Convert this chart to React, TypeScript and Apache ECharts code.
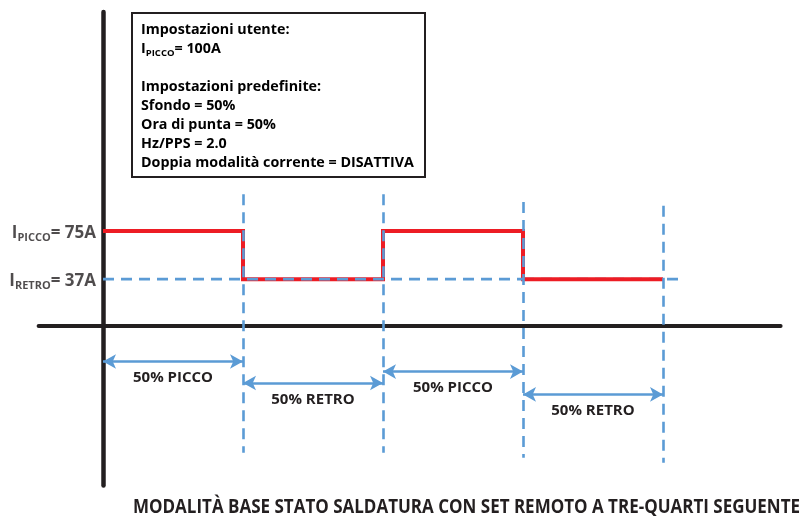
import React, { useEffect, useRef } from "react";
import * as echarts from "echarts";

// ---- data ----
const phaseBounds = [0, 1, 2, 3, 4];
const phaseCurrents = [75, 37, 75, 37];
const levelValues = [75, 37];
const levelSubs = ["PICCO", "RETRO"];
const levelTexts = ["= 75A", "= 37A"];
const phaseLabels = ["50% PICCO", "50% RETRO", "50% PICCO", "50% RETRO"];
const arrowRows = [-28, -45, -36, -54];
const guideTops = [104, 104, 98, 95];
const guideBottoms = [-100, -100, -104, -108];
const backgroundLineEnd = 4.12;
const boxLines = [
  "Impostazioni utente:",
  "__IPICCO__",
  "",
  "Impostazioni predefinite:",
  "Sfondo = 50%",
  "Ora di punta = 50%",
  "Hz/PPS = 2.0",
  "Doppia modalità corrente = DISATTIVA",
];
const userPeak = "= 100A";
const title = "MODALITÀ BASE STATO SALDATURA CON SET REMOTO A TRE-QUARTI SEGUENTE";

const FONT = "'Open Sans', 'Noto Sans', sans-serif";
const RED = "#ed1c24";
const BLUE = "#5b9bd5";
const INK = "#231f20";

export default function App() {
  const ref = useRef<HTMLDivElement>(null);
  useEffect(() => {
    if (!ref.current) return;
    const chart = echarts.init(ref.current, null, { renderer: "svg" });

    const redData: number[][] = [];
    phaseCurrents.forEach((c, i) => {
      redData.push([phaseBounds[i], c]);
      redData.push([phaseBounds[i + 1], c]);
    });
    const bg = phaseCurrents[1];

    const guideData = phaseBounds.slice(1).map((x, i) => ({
      coords: [
        [x, guideTops[i]],
        [x, guideBottoms[i]],
      ],
    }));

    const arrowData = phaseLabels.map((name, i) => [
      { name, coord: [phaseBounds[i], arrowRows[i]] },
      { coord: [phaseBounds[i + 1], arrowRows[i]] },
    ]);

    const dashStyle = { color: BLUE, width: 2.6, type: [11, 7] as any };

    const boxText = boxLines
      .map((l) => (l === "__IPICCO__" ? `{b|I}{s|PICCO}{b|${userPeak}}` : l === "" ? "{b| }" : `{b|${l}}`))
      .join("\n");

    chart.setOption({
      animation: false,
      grid: { left: 38.6, right: 22.4, top: 11.9, bottom: 36.4 },
      xAxis: {
        type: "value",
        min: -0.46,
        max: 4.84,
        axisLine: { show: true, onZero: true, lineStyle: { color: INK, width: 4 } },
        axisTick: { show: false },
        axisLabel: { show: false },
        splitLine: { show: false },
      },
      yAxis: {
        type: "value",
        min: -126,
        max: 248,
        axisLine: { show: true, onZero: true, lineStyle: { color: INK, width: 4.5 } },
        axisTick: { show: false },
        axisLabel: { show: false },
        splitLine: { show: false },
      },
      series: [
        {
          type: "line",
          data: redData,
          symbol: "none",
          z: 3,
          lineStyle: { color: RED, width: 4, join: "miter", cap: "butt" },
        },
        {
          type: "line",
          data: [
            [phaseBounds[0], bg],
            [phaseBounds[3], bg],
          ],
          symbol: "none",
          z: 4,
          lineStyle: dashStyle,
        },
        {
          type: "line",
          data: [
            [phaseBounds[3], bg],
            [backgroundLineEnd, bg],
          ],
          symbol: "none",
          z: 2,
          lineStyle: dashStyle,
        },
        {
          type: "lines",
          coordinateSystem: "cartesian2d",
          data: guideData,
          z: 5,
          symbol: "none",
          lineStyle: { ...dashStyle, opacity: 1 },
        },
        {
          type: "line",
          data: [],
          markLine: {
            silent: true,
            symbol: ["arrow", "arrow"],
            symbolSize: [11, 13],
            lineStyle: { color: BLUE, width: 2.6, type: "solid" },
            label: {
              show: true,
              position: "insideMiddleBottom",
              distance: 7,
              formatter: "{b}",
              color: INK,
              fontFamily: FONT,
              fontWeight: "bold",
              fontSize: 15,
            },
            emphasis: { disabled: true },
            data: arrowData as any,
          },
        },
        {
          type: "scatter",
          symbolSize: 0,
          z: 6,
          data: levelValues.map((v, i) => ({ value: [0, v], name: levelSubs[i] })),
          label: {
            show: true,
            position: "left",
            distance: 7,
            formatter: (p: any) => `{b|I}{s|${levelSubs[p.dataIndex]}}{b|${levelTexts[p.dataIndex]}}`,
            rich: {
              b: { fontFamily: FONT, fontWeight: "bold", fontSize: 17, color: INK, lineHeight: 22 },
              s: {
                fontFamily: FONT,
                fontWeight: "bold",
                fontSize: 11,
                color: INK,
                lineHeight: 12,
                verticalAlign: "bottom",
              },
            },
          },
        },
      ],
      graphic: [
        {
          type: "rect",
          shape: { x: 132, y: 13, width: 293, height: 164 },
          style: { fill: "#fff", stroke: INK, lineWidth: 2 },
          z: 10,
        },
        {
          type: "text",
          x: 141,
          y: 19,
          z: 11,
          style: {
            text: boxText,
            rich: {
              b: { fontFamily: FONT, fontWeight: "bold", fontSize: 14.3, color: INK, lineHeight: 19 },
              s: {
                fontFamily: FONT,
                fontWeight: "bold",
                fontSize: 9.5,
                color: INK,
                lineHeight: 12,
                verticalAlign: "bottom",
              },
            },
          },
        },
        {
          type: "text",
          x: 133,
          y: 505,
          scaleX: 0.872,
          z: 11,
          style: {
            text: title,
            fontFamily: FONT,
            fontWeight: "bold",
            fontSize: 19.5,
            fill: INK,
            align: "left",
            verticalAlign: "middle",
          },
        },
      ],
    });
    return () => chart.dispose();
  }, []);
  return <div ref={ref} style={{ position: "fixed", left: 0, top: 0, width: 803, height: 522 }} />;
}
